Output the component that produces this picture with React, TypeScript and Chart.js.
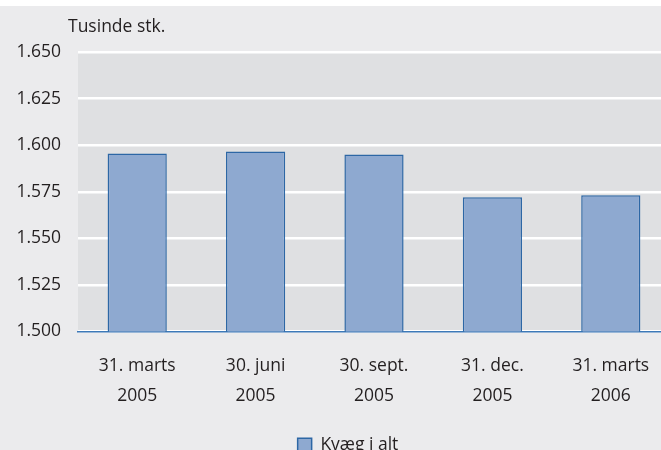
import React, { useEffect, useRef } from "react";
import { Chart, registerables } from "chart.js";

Chart.register(...registerables);

const categories: string[][] = [
  ["31. marts", "2005"],
  ["30. juni", "2005"],
  ["30. sept.", "2005"],
  ["31. dec.", "2005"],
  ["31. marts", "2006"],
];
const seriesName = "Kvæg i alt";
const seriesValues = [1595.5, 1596.6, 1595.0, 1572.0, 1573.1];
const yMin = 1500;
const yMax = 1650;
const yStep = 25;
const yTitle = "Tusinde stk.";

const FONT = "'Open Sans', sans-serif";
const FS = 17.5;

const bgPlugin = {
  id: "bgPlugin",
  afterLayout(chart: any) {
    const lg = chart.legend;
    if (lg) {
      lg.left += 13;
      lg.right += 13;
    }
  },
  beforeDraw(chart: any) {
    const { ctx, chartArea } = chart;
    ctx.save();
    ctx.fillStyle = "#ebebed";
    ctx.fillRect(0, 0, chart.width, chart.height);
    ctx.fillStyle = "#ffffff";
    ctx.fillRect(0, 0, chart.width, 6);
    ctx.fillStyle = "#dfe0e2";
    ctx.fillRect(chartArea.left, chartArea.top, chartArea.right - chartArea.left, chartArea.bottom - chartArea.top);
    ctx.restore();
  },
  afterDraw(chart: any) {
    const { ctx, chartArea } = chart;
    ctx.save();
    ctx.fillStyle = "#231f20";
    ctx.font = `${FS}px ${FONT}`;
    ctx.textAlign = "left";
    ctx.textBaseline = "middle";
    ctx.fillText(yTitle, chartArea.left - 10, chartArea.top - 25);
    ctx.restore();
  },
};

export default function App() {
  const ref = useRef<HTMLCanvasElement | null>(null);
  useEffect(() => {
    if (!ref.current) return;
    const chart = new Chart(ref.current, {
      type: "bar",
      data: {
        labels: categories,
        datasets: [
          {
            label: seriesName,
            data: seriesValues,
            backgroundColor: "#8ea9d0",
            borderColor: "#2d67a5",
            borderWidth: 1.5,
            categoryPercentage: 1,
            barPercentage: 0.5,
          },
        ],
      },
      options: {
        responsive: false,
        animation: false,
        devicePixelRatio: 1,
        layout: { padding: { top: 52, left: 0, right: 0, bottom: 0 } },
        plugins: {
          legend: {
            position: "bottom",
            labels: {
              color: "#231f20",
              font: { family: FONT, size: FS },
              boxWidth: 14,
              boxHeight: 14,
              padding: 10,
            },
          },
          tooltip: { enabled: false },
        },
        scales: {
          x: {
            grid: { display: false, drawTicks: false },
            border: { display: true, color: "#3d79b8", width: 1.5 },
            ticks: {
              color: "#231f20",
              font: { family: FONT, size: FS, lineHeight: 1.72 },
              padding: 19,
              maxRotation: 0,
              autoSkip: false,
            },
            afterFit(scale: any) {
              scale.height = 95;
            },
          },
          y: {
            min: yMin,
            max: yMax,
            grid: { color: "#ffffff", lineWidth: 2.5, drawTicks: false },
            border: { display: false },
            ticks: {
              stepSize: yStep,
              color: "#231f20",
              font: { family: FONT, size: FS },
              padding: 17,
              callback: (v: any) => {
                const n = Number(v);
                const th = Math.floor(n / 1000);
                const rest = String(n % 1000).padStart(3, "0");
                return `${th}.${rest}`;
              },
            },
            afterFit(scale: any) {
              scale.width = 78;
            },
          },
        },
      },
      plugins: [bgPlugin],
    });
    return () => chart.destroy();
  }, []);

  return (
    <div style={{ position: "fixed", left: 0, top: 0, width: 661, height: 450, overflow: "hidden", background: "#ebebed" }}>
      <canvas ref={ref} width={670} height={464} style={{ display: "block", width: 670, height: 464 }} />
    </div>
  );
}
